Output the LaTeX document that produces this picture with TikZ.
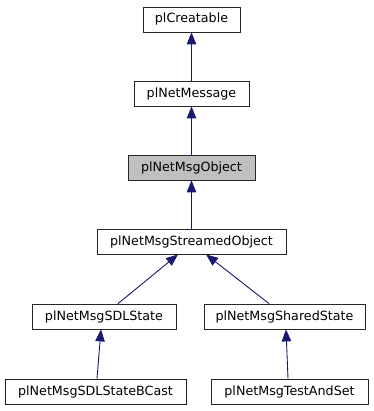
\documentclass[tikz,border=0pt]{standalone}
\usepackage{fontspec}
\setmainfont{DejaVu Sans}
\usetikzlibrary{arrows.meta}
\definecolor{edgeblue}{HTML}{191970}
\definecolor{focusgray}{HTML}{BFBFBF}
\begin{document}
\begin{tikzpicture}[x=1pt,y=-1pt,
  cls/.style={draw=black!85,line width=0.8pt,fill=white,inner sep=0pt,
    minimum height=25pt,font=\fontsize{12.7}{15}\selectfont,anchor=center},
  focus/.style={cls,fill=focusgray},
  inherit/.style={draw=edgeblue,line width=0.9pt,
    -{Triangle[length=12pt,width=9.5pt,fill=edgeblue]}}]
\useasboundingbox (0,0) rectangle (373,411);

% class boxes, top to bottom
\node[cls,minimum width=97pt]   (creatable) at (191.5,19.5)  {plCreatable};
\node[cls,minimum width=115pt]  (netmsg)    at (191.5,93.5)  {plNetMessage};
\node[focus,minimum width=127pt](msgobj)    at (191.5,167.5) {plNetMsgObject};
\node[cls,minimum width=189pt]  (streamed)  at (191.5,241.5) {plNetMsgStreamedObject};
\node[cls,minimum width=144pt]  (sdl)       at (104,316.5)   {plNetMsgSDLState};
\node[cls,minimum width=161pt]  (shared)    at (284.5,316.5) {plNetMsgSharedState};
\node[cls,minimum width=181pt]  (bcast)     at (95.5,391.5)  {plNetMsgSDLStateBCast};
\node[cls,minimum width=157pt]  (testset)   at (289.5,391.5) {plNetMsgTestAndSet};

% inheritance arrows point from derived class to base class
\draw[inherit] (netmsg.north) -- (creatable.south);
\draw[inherit] (msgobj.north) -- (netmsg.south);
\draw[inherit] (streamed.north) -- (msgobj.south);
\draw[inherit] ([xshift=14pt]sdl.north) -- ([xshift=-13.5pt]streamed.south);
\draw[inherit] ([xshift=-15.5pt]shared.north) -- ([xshift=14.5pt]streamed.south);
\draw[inherit] ([xshift=1.5pt]bcast.north) -- ([xshift=-3pt]sdl.south);
\draw[inherit] ([xshift=-1.5pt]testset.north) -- ([xshift=1.5pt]shared.south);
\end{tikzpicture}
\end{document}
